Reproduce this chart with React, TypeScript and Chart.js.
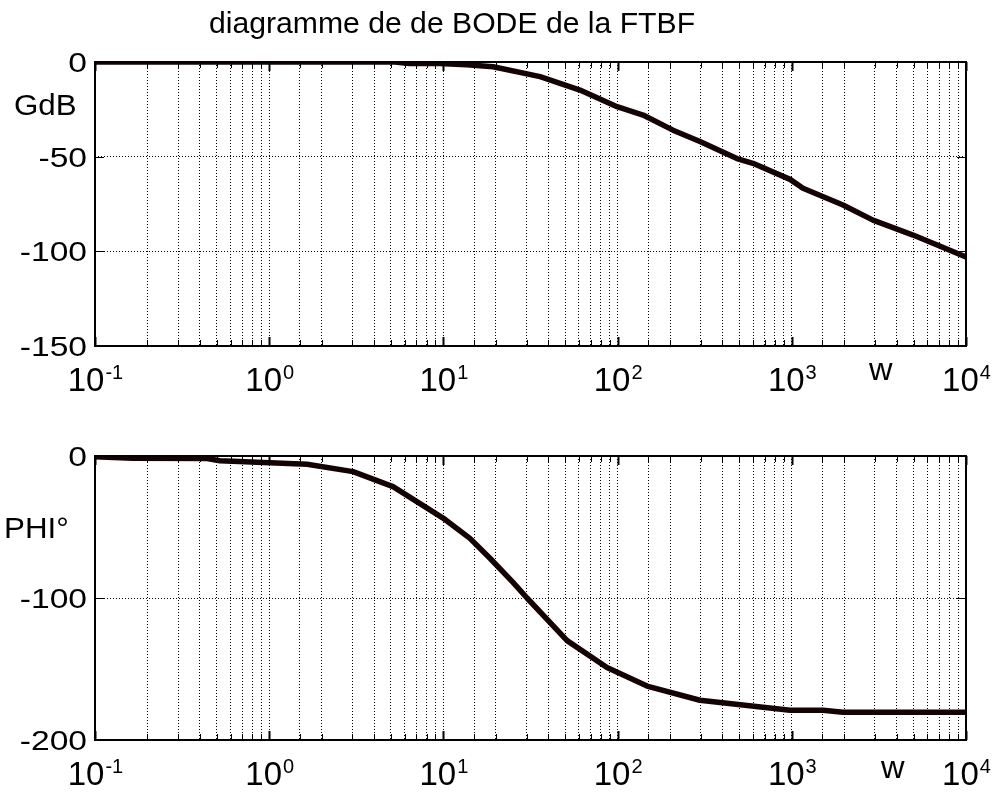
import React, { useEffect, useRef } from "react";
import { Chart, registerables } from "chart.js";
Chart.register(...registerables);

// ---- data ----
const gainW = [0.1, 5.27, 6.43, 9.55, 13.6, 19.3, 35.9, 60.8, 99.3, 140, 208, 297, 484, 598, 977, 1159, 1968, 2924, 4966, 10000];
const gainDb = [0, 0, -0.8, -0.8, -1.5, -2.5, -7.7, -14.8, -23.6, -28, -36, -42, -51, -53.5, -62, -66.7, -75.5, -83.5, -91.4, -103];
const phaseW = [0.1, 0.165, 0.44, 0.522, 1.65, 3.03, 5.14, 9.95, 14.2, 18.5, 25.1, 30.2, 51.3, 86.9, 147.6, 297, 977, 1510, 1968, 10000];
const phaseDeg = [-0.5, -1.5, -1.8, -3.3, -5.8, -11, -21.6, -43.7, -58, -72, -89, -100, -130, -149, -162, -172, -179, -179, -180.5, -180.5];
const gainTicks = [0, -50, -100, -150];
const phaseTicks = [0, -100, -200];
const titleText = "diagramme de de BODE de la FTBF";
const xLabel = "w";

const FONT = "'Liberation Sans', Arial, Helvetica, sans-serif";
const LINE_COLOR = "#150303";

type PanelCfg = {
  w: number[];
  v: number[];
  yMin: number;
  yMax: number;
  yTicks: number[];
  yLabel: string;
  yLabelPos: [number, number];
  wPos: [number, number];
  title?: string;
  padTop: number;
  height: number;
  plotBottom: number;
};

function stretchText(
  ctx: CanvasRenderingContext2D,
  text: string,
  x: number,
  y: number,
  size: number,
  sx: number,
  align: "left" | "right" | "center"
) {
  ctx.save();
  ctx.font = `${size}px ${FONT}`;
  ctx.textAlign = align;
  ctx.translate(x, y);
  ctx.scale(sx, 1);
  ctx.fillText(text, 0, 0);
  ctx.restore();
}

function makePlugin(cfg: PanelCfg) {
  return {
    id: "matlabDecor",
    afterDraw(chart: any) {
      const ctx: CanvasRenderingContext2D = chart.ctx;
      const a = chart.chartArea;
      const xs = chart.scales.x;
      const ys = chart.scales.y;
      ctx.save();
      // frame
      ctx.strokeStyle = "#000";
      ctx.lineWidth = 2;
      ctx.setLineDash([]);
      ctx.strokeRect(a.left, a.top, a.right - a.left, a.bottom - a.top);
      // inward ticks x
      for (const t of xs.ticks) {
        const px = Math.round(xs.getPixelForValue(t.value)) + 0.5;
        const lg = Math.log10(t.value);
        const major = Math.abs(lg - Math.round(lg)) < 1e-6;
        const len = major ? 9 : 6;
        ctx.lineWidth = major ? 2 : 1;
        ctx.beginPath();
        ctx.moveTo(px, a.bottom);
        ctx.lineTo(px, a.bottom - len);
        ctx.moveTo(px, a.top);
        ctx.lineTo(px, a.top + len);
        ctx.stroke();
      }
      ctx.lineWidth = 1;
      for (const v of cfg.yTicks) {
        const py = Math.round(ys.getPixelForValue(v)) + 0.5;
        ctx.beginPath();
        ctx.moveTo(a.left, py);
        ctx.lineTo(a.left + 9, py);
        ctx.moveTo(a.right, py);
        ctx.lineTo(a.right - 9, py);
        ctx.stroke();
      }
      ctx.fillStyle = "#000";
      ctx.textBaseline = "alphabetic";
      // y tick labels
      for (const v of cfg.yTicks) {
        const py = ys.getPixelForValue(v);
        stretchText(ctx, String(v), a.left - 8, py + 10, 28, 1.2, "right");
      }
      // x tick labels 10^n
      for (const t of xs.ticks) {
        const lg = Math.log10(t.value);
        if (Math.abs(lg - Math.round(lg)) > 1e-6) continue;
        const px = xs.getPixelForValue(t.value);
        const exp = String(Math.round(lg));
        ctx.font = `33px ${FONT}`;
        const w1 = ctx.measureText("10").width;
        ctx.font = `20px ${FONT}`;
        const w2 = ctx.measureText(exp).width;
        const x0 = px - (w1 + w2) / 2;
        const base = a.bottom + 45;
        stretchText(ctx, "10", x0, base, 33, 1, "left");
        stretchText(ctx, exp, x0 + w1 + 1, base - 12, 20, 1, "left");
      }
      // axis labels
      stretchText(ctx, cfg.yLabel, cfg.yLabelPos[0], cfg.yLabelPos[1], 29, 1.08, "left");
      stretchText(ctx, xLabel, cfg.wPos[0], cfg.wPos[1], 31, 1.05, "left");
      if (cfg.title) {
        stretchText(ctx, cfg.title, 452, 33, 29, 1.04, "center");
      }
      ctx.restore();
    },
  };
}

function Panel({ cfg, top }: { cfg: PanelCfg; top: number }) {
  const ref = useRef<HTMLCanvasElement | null>(null);
  useEffect(() => {
    if (!ref.current) return;
    const pts = cfg.w.map((x, i) => ({ x, y: cfg.v[i] }));
    const chart = new Chart(ref.current, {
      type: "line",
      data: {
        datasets: [
          {
            data: pts,
            borderColor: LINE_COLOR,
            borderWidth: 5.5,
            pointRadius: 0,
            tension: 0,
            fill: false,
            borderJoinStyle: "round",
            borderCapStyle: "round",
          } as any,
        ],
      },
      options: {
        responsive: false,
        animation: false,
        layout: { padding: { top: cfg.padTop, right: 26, left: 0, bottom: 0 } },
        plugins: { legend: { display: false }, tooltip: { enabled: false }, title: { display: false } },
        scales: {
          x: {
            type: "logarithmic",
            min: 0.1,
            max: 10000,
            ticks: { display: false, autoSkip: false },
            grid: { display: true, color: "#000", lineWidth: 1, drawTicks: false, tickLength: 0 },
            border: { display: false, dash: [1, 2] },
            afterFit: (s: any) => {
              s.height = cfg.height - cfg.plotBottom;
            },
          },
          y: {
            type: "linear",
            min: cfg.yMin,
            max: cfg.yMax,
            afterBuildTicks: (s: any) => {
              s.ticks = cfg.yTicks.map((v) => ({ value: v }));
            },
            ticks: { display: false },
            grid: { display: true, color: "#000", lineWidth: 1, drawTicks: false, tickLength: 0 },
            border: { display: false, dash: [1, 2] },
            afterFit: (s: any) => {
              s.width = 95;
            },
          },
        },
      } as any,
      plugins: [makePlugin(cfg) as any],
    });
    return () => chart.destroy();
  }, [cfg]);
  return (
    <canvas
      ref={ref}
      width={992}
      height={cfg.height}
      style={{ position: "absolute", left: 0, top, width: 992, height: cfg.height, display: "block" }}
    />
  );
}

const topCfg: PanelCfg = {
  w: gainW,
  v: gainDb,
  yMin: -150,
  yMax: 0,
  yTicks: gainTicks,
  yLabel: "GdB",
  yLabelPos: [14, 115],
  wPos: [869, 380],
  title: titleText,
  padTop: 62,
  height: 400,
  plotBottom: 346,
};

const bottomCfg: PanelCfg = {
  w: phaseW,
  v: phaseDeg,
  yMin: -200,
  yMax: 0,
  yTicks: phaseTicks,
  yLabel: "PHI°",
  yLabelPos: [4, 138],
  wPos: [881, 378],
  padTop: 56,
  height: 399,
  plotBottom: 340,
};

export default function App() {
  return (
    <div style={{ position: "fixed", left: 0, top: 0, width: 992, height: 799, background: "#fff", overflow: "hidden" }}>
      <Panel cfg={topCfg} top={0} />
      <Panel cfg={bottomCfg} top={400} />
    </div>
  );
}
